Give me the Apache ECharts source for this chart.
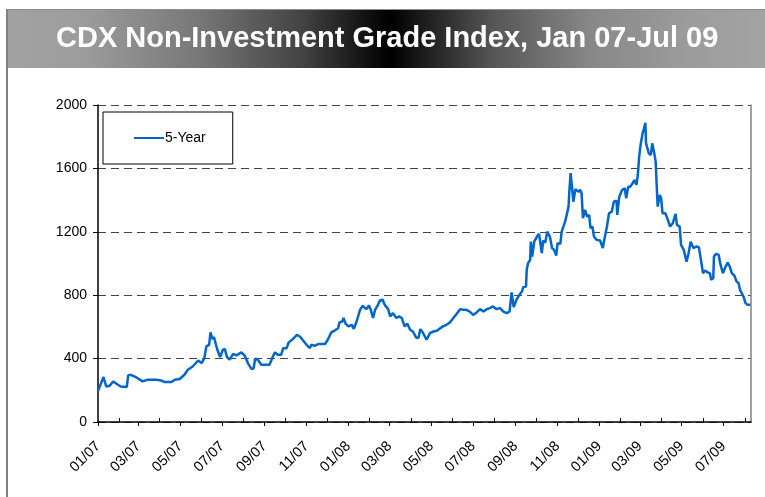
<!DOCTYPE html>
<html>
<head>
<meta charset="utf-8">
<script src="https://cdn.jsdelivr.net/npm/echarts@6/dist/echarts.min.js"></script>
<style>
  html, body { margin: 0; padding: 0; background: #fff; }
  #chart { width: 765px; height: 497px; }
</style>
</head>
<body>
<div id="chart"></div>
<script>
var titleText = 'CDX Non-Investment Grade Index, Jan 07-Jul 09';
var seriesName = '5-Year';

// y axis ticks
var yTicks = [0, 400, 800, 1200, 1600, 2000];

// x axis labels (every 2 months), ticks every month
var xLabels = ['01/07', '03/07', '05/07', '07/07', '09/07', '11/07', '01/08', '03/08',
               '05/08', '07/08', '09/08', '11/08', '01/09', '03/09', '05/09', '07/09'];
var xStart = '2007-01-01';
var xEnd = '2009-08-10';

// dates
var dates = [
  '2007-01-01', '2007-01-09', '2007-01-13', '2007-01-18', '2007-01-23', '2007-01-28', '2007-02-03', '2007-02-12',
  '2007-02-14', '2007-02-18', '2007-02-26', '2007-03-07', '2007-03-15', '2007-03-27', '2007-04-03', '2007-04-08',
  '2007-04-18', '2007-04-23', '2007-04-30', '2007-05-07', '2007-05-12', '2007-05-19', '2007-05-27', '2007-06-01',
  '2007-06-05', '2007-06-08', '2007-06-12', '2007-06-14', '2007-06-17', '2007-06-19', '2007-06-24', '2007-06-28',
  '2007-07-02', '2007-07-05', '2007-07-08', '2007-07-12', '2007-07-17', '2007-07-22', '2007-07-29', '2007-08-03',
  '2007-08-08', '2007-08-13', '2007-08-16', '2007-08-18', '2007-08-22', '2007-08-27', '2007-09-08', '2007-09-13',
  '2007-09-16', '2007-09-20', '2007-09-25', '2007-09-28', '2007-10-03', '2007-10-06', '2007-10-12', '2007-10-18',
  '2007-10-23', '2007-10-27', '2007-11-01', '2007-11-06', '2007-11-08', '2007-11-13', '2007-11-18', '2007-11-28',
  '2007-12-02', '2007-12-07', '2007-12-12', '2007-12-17', '2007-12-19', '2007-12-23', '2007-12-25', '2007-12-28',
  '2008-01-01', '2008-01-06', '2008-01-09', '2008-01-13', '2008-01-18', '2008-01-22', '2008-01-27', '2008-01-31',
  '2008-02-03', '2008-02-06', '2008-02-09', '2008-02-12', '2008-02-16', '2008-02-20', '2008-02-23', '2008-02-28',
  '2008-03-02', '2008-03-06', '2008-03-11', '2008-03-15', '2008-03-19', '2008-03-23', '2008-03-27', '2008-03-31',
  '2008-04-04', '2008-04-09', '2008-04-12', '2008-04-15', '2008-04-19', '2008-04-24', '2008-04-29', '2008-05-04',
  '2008-05-09', '2008-05-14', '2008-05-18', '2008-05-23', '2008-05-28', '2008-06-02', '2008-06-07', '2008-06-12',
  '2008-06-16', '2008-06-21', '2008-06-26', '2008-07-01', '2008-07-06', '2008-07-11', '2008-07-16', '2008-07-21',
  '2008-07-25', '2008-07-30', '2008-08-04', '2008-08-09', '2008-08-14', '2008-08-19', '2008-08-23', '2008-08-26',
  '2008-08-29', '2008-09-02', '2008-09-06', '2008-09-10', '2008-09-12', '2008-09-16', '2008-09-17', '2008-09-19',
  '2008-09-22', '2008-09-23', '2008-09-25', '2008-09-28', '2008-10-02', '2008-10-05', '2008-10-09', '2008-10-11',
  '2008-10-14', '2008-10-17', '2008-10-21', '2008-10-24', '2008-10-27', '2008-10-30', '2008-11-01', '2008-11-05',
  '2008-11-07', '2008-11-12', '2008-11-17', '2008-11-18', '2008-11-20', '2008-11-22', '2008-11-24', '2008-11-27',
  '2008-12-01', '2008-12-04', '2008-12-06', '2008-12-08', '2008-12-11', '2008-12-14', '2008-12-17', '2008-12-19',
  '2008-12-22', '2008-12-24', '2008-12-28', '2009-01-02', '2009-01-06', '2009-01-08', '2009-01-12', '2009-01-15',
  '2009-01-19', '2009-01-22', '2009-01-26', '2009-01-27', '2009-01-30', '2009-02-03', '2009-02-07', '2009-02-09',
  '2009-02-12', '2009-02-15', '2009-02-19', '2009-02-21', '2009-02-24', '2009-02-26', '2009-02-28', '2009-03-02',
  '2009-03-05', '2009-03-07', '2009-03-09', '2009-03-10', '2009-03-14', '2009-03-17', '2009-03-19', '2009-03-22',
  '2009-03-24', '2009-03-26', '2009-03-27', '2009-03-30', '2009-04-01', '2009-04-03', '2009-04-07', '2009-04-10',
  '2009-04-14', '2009-04-18', '2009-04-22', '2009-04-24', '2009-04-28', '2009-04-30', '2009-05-04', '2009-05-08',
  '2009-05-11', '2009-05-14', '2009-05-18', '2009-05-22', '2009-05-26', '2009-05-29', '2009-06-01', '2009-06-04',
  '2009-06-08', '2009-06-11', '2009-06-13', '2009-06-16', '2009-06-17', '2009-06-20', '2009-06-24', '2009-06-26',
  '2009-06-30', '2009-07-04', '2009-07-07', '2009-07-10', '2009-07-13', '2009-07-17', '2009-07-20', '2009-07-23',
  '2009-07-25', '2009-07-27', '2009-07-30', '2009-08-02', '2009-08-05', '2009-08-09'
];

// 5-Year spread, bp
var cdx5y = [
  195, 284, 224, 229, 256, 241, 224, 221,
  294, 298, 281, 256, 267, 267, 262, 252,
  252, 267, 271, 298, 330, 350, 388, 372,
  403, 477, 487, 565, 523, 536, 456, 410,
  456, 460, 410, 393, 430, 420, 439, 418,
  367, 334, 340, 399, 393, 361, 361, 413,
  439, 424, 424, 466, 466, 502, 523, 550,
  536, 514, 487, 466, 487, 481, 492, 492,
  519, 565, 577, 592, 628, 634, 656, 620,
  603, 613, 588, 634, 708, 733, 712, 735,
  703, 656, 708, 729, 767, 771, 739, 712,
  666, 687, 656, 666, 656, 603, 620, 582,
  571, 533, 529, 586, 561, 519, 561, 571,
  576, 592, 603, 613, 628, 656, 683, 712,
  708, 708, 697, 676, 691, 712, 697, 712,
  719, 729, 712, 719, 697, 687, 697, 817,
  725, 771, 800, 823, 851, 855, 960, 1002,
  1023, 1138, 1044, 1138, 1170, 1187, 1065, 1145,
  1132, 1201, 1166, 1097, 1086, 1050, 1128, 1124,
  1201, 1264, 1359, 1443, 1570, 1485, 1390, 1469,
  1453, 1464, 1443, 1286, 1338, 1296, 1307, 1223,
  1233, 1170, 1149, 1145, 1097, 1149, 1233, 1317,
  1327, 1390, 1397, 1307, 1422, 1464, 1475, 1412,
  1485, 1485, 1510, 1527, 1496, 1560, 1674, 1748,
  1822, 1853, 1888, 1758, 1695, 1685, 1758, 1695,
  1643, 1443, 1359, 1433, 1412, 1317, 1317, 1286,
  1233, 1254, 1313, 1244, 1233, 1118, 1086, 1012,
  1065, 1138, 1097, 1107, 1103, 1023, 939, 956,
  943, 939, 897, 908, 1044, 1061, 1054, 1002,
  939, 981, 1006, 981, 939, 922, 886, 876,
  834, 823, 792, 750, 739, 739
];

var chart = echarts.init(document.getElementById('chart'), null, { renderer: 'canvas' });

function toTime(s) {
    return echarts.time.parse(s).getTime();
}

function labelDate(lbl) {
    var p = lbl.split('/');
    return new Date(2000 + parseInt(p[1], 10), parseInt(p[0], 10) - 1, 1).getTime();
}

var labelValues = xLabels.map(labelDate);
var labelMap = {};
xLabels.forEach(function(l, i) { labelMap[labelValues[i]] = l; });

// months in between the labels get a short tick pointing into the plot
var minorTickValues = [];
var d0 = echarts.time.parse(xStart);
var tMax = toTime(xEnd);
for (var k = 1; ; k += 2) {
    var t = new Date(d0.getFullYear(), d0.getMonth() + k, 1).getTime();
    if (t > tMax) break;
    minorTickValues.push(t);
}

var lineData = dates.map(function(d, i) { return [toTime(d), cdx5y[i]]; });

var option = {
    animation: false,
    backgroundColor: '#fff',
    textStyle: { fontFamily: 'Liberation Sans, Arial, sans-serif' },
    graphic: [
        {
            type: 'rect',
            shape: { x: 7, y: 9, width: 758, height: 59 },
            style: {
                fill: new echarts.graphic.LinearGradient(0, 0, 1, 0, [
                    { offset: 0, color: '#a2a2a2' },
                    { offset: 0.1, color: '#9c9c9c' },
                    { offset: 0.255, color: '#777777' },
                    { offset: 0.387, color: '#444444' },
                    { offset: 0.505, color: '#000000' },
                    { offset: 0.64, color: '#555555' },
                    { offset: 0.77, color: '#888888' },
                    { offset: 0.9, color: '#9c9c9c' },
                    { offset: 1, color: '#a3a3a3' }
                ])
            },
            silent: true
        },
        {
            type: 'line',
            shape: { x1: 7, y1: 9.5, x2: 765, y2: 9.5 },
            style: { stroke: '#8a8a8a', lineWidth: 1 },
            silent: true
        },
        {
            type: 'line',
            shape: { x1: 7, y1: 9, x2: 7, y2: 497 },
            style: { stroke: '#808080', lineWidth: 2 },
            silent: true
        },
        {
            type: 'text',
            x: 56,
            y: 39,
            style: {
                text: titleText,
                fill: '#ffffff',
                font: 'bold 29px "Liberation Sans", Arial, sans-serif',
                verticalAlign: 'middle',
                align: 'left'
            },
            silent: true
        }
    ],
    legend: {
        left: 103,
        top: 112,
        orient: 'horizontal',
        padding: [19, 27, 19, 30],
        borderColor: '#000',
        borderWidth: 1,
        backgroundColor: '#fff',
        itemWidth: 30,
        itemHeight: 14,
        itemGap: 0,
        itemStyle: { color: 'rgba(0,0,0,0)', borderWidth: 0, opacity: 0 },
        textStyle: { fontSize: 14, color: '#000', padding: [0, 0, 0, -4] },
        data: [seriesName]
    },
    grid: {
        left: 98,
        right: 14,
        top: 105,
        bottom: 75
    },
    xAxis: [
        {
            type: 'value',
            min: toTime(xStart),
            max: tMax,
            splitLine: { show: false },
            axisLine: { show: true, lineStyle: { color: '#000', width: 1.5 } },
            axisTick: {
                show: true,
                length: 4,
                inside: false,
                customValues: labelValues,
                lineStyle: { color: '#000', width: 1 }
            },
            axisLabel: {
                customValues: labelValues,
                rotate: 45,
                margin: 22,
                fontSize: 14.5,
                color: '#000',
                formatter: function(val) {
                    return labelMap[val] || '';
                }
            }
        },
        {
            type: 'value',
            position: 'bottom',
            min: toTime(xStart),
            max: tMax,
            splitLine: { show: false },
            axisLine: { show: false },
            axisTick: {
                show: true,
                length: 4,
                inside: true,
                customValues: minorTickValues,
                lineStyle: { color: '#000', width: 1 }
            },
            axisLabel: { show: false }
        }
    ],
    yAxis: [
        {
            type: 'value',
            min: yTicks[0],
            max: yTicks[yTicks.length - 1],
            interval: 400,
            axisLine: { show: true, lineStyle: { color: '#000', width: 1.5 } },
            axisTick: { show: true, length: 5, inside: false, lineStyle: { color: '#000' } },
            axisLabel: {
                fontSize: 14,
                color: '#000',
                margin: 11,
                formatter: function(v) { return String(v); }
            },
            splitLine: {
                show: true,
                lineStyle: { color: '#444', width: 1, type: [8, 5] }
            }
        },
        {
            type: 'value',
            position: 'right',
            min: yTicks[0],
            max: yTicks[yTicks.length - 1],
            interval: 400,
            axisLine: { show: true, lineStyle: { color: '#808080', width: 1.5 } },
            axisTick: { show: false },
            axisLabel: { show: false },
            splitLine: { show: false }
        }
    ],
    series: [
        {
            name: seriesName,
            type: 'line',
            xAxisIndex: 0,
            yAxisIndex: 0,
            symbol: 'none',
            data: lineData,
            lineStyle: { color: '#0066cc', width: 2.5 },
            itemStyle: { color: '#0066cc' }
        }
    ]
};

chart.setOption(option);
</script>
</body>
</html>
